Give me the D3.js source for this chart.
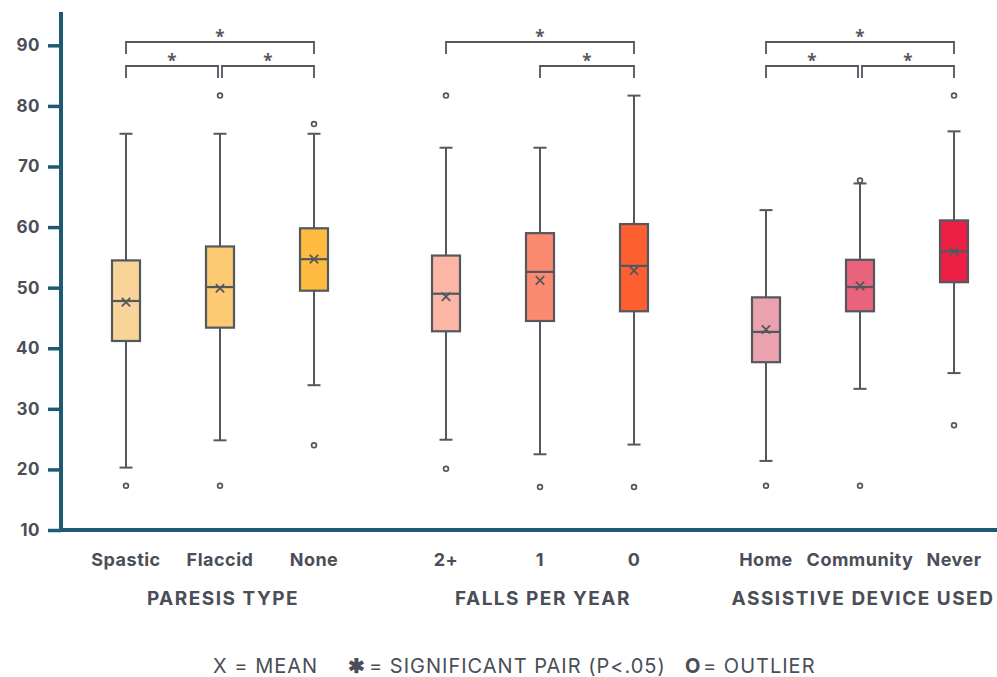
<!DOCTYPE html>
<html>
<head>
<meta charset="utf-8">
<script src="https://cdn.jsdelivr.net/npm/d3@7"></script>
<style>
  html, body { margin: 0; padding: 0; background: #fff; }
  svg { display: block; font-family: Inter, "Open Sans", sans-serif; }
</style>
</head>
<body>
<svg id="chart" width="997" height="677"></svg>
<script>
// Grouped box plots with significance brackets
const groups = ["PARESIS TYPE", "FALLS PER YEAR", "ASSISTIVE DEVICE USED"];
const categories = ["Spastic", "Flaccid", "None", "2+", "1", "0", "Home", "Community", "Never"];
const categoryGroup = [0, 0, 0, 1, 1, 1, 2, 2, 2];

const whiskerLow  = [20.3, 24.8, 33.9, 24.9, 22.5, 24.1, 21.4, 33.3, 35.9];
const quartile1   = [41.2, 43.4, 49.5, 42.8, 44.5, 46.1, 37.7, 46.1, 50.9];
const medians     = [47.8, 50.1, 54.7, 49.0, 52.6, 53.6, 42.7, 50.1, 56.0];
const quartile3   = [54.5, 56.8, 59.8, 55.3, 59.0, 60.5, 48.4, 54.6, 61.1];
const whiskerHigh = [75.4, 75.4, 75.4, 73.1, 73.1, 81.7, 62.8, 67.2, 75.8];
const means       = [47.6, 49.9, 54.7, 48.5, 51.2, 52.8, 43.1, 50.3, 56.0];
const outliers    = [[17.3], [17.3, 81.7], [24.0, 77.0], [20.1, 81.7], [17.1], [17.1], [17.3], [17.3, 67.7], [27.3, 81.7]];

// significant pairs: [from, to, level] (level 1 = outer bracket, 0 = inner)
const sigPairs = [
  ["Spastic", "None", 1], ["Spastic", "Flaccid", 0], ["Flaccid", "None", 0],
  ["2+", "0", 1], ["1", "0", 0],
  ["Home", "Never", 1], ["Home", "Community", 0], ["Community", "Never", 0]
];

const yTicks = [10, 20, 30, 40, 50, 60, 70, 80, 90];
const boxColors = ["#f8d498", "#fcca72", "#ffbb40", "#fbb6a5", "#fc8a70", "#fe5f31", "#eaa2ae", "#e9637c", "#ee1f44"];

const axisColor = "#1f5a73";
const inkColor = "#53575e";
const textColor = "#4a4e57";

const svg = d3.select("#chart");

const y = d3.scaleLinear().domain([10, 95.5]).range([530, 12]);

// outer band per group, inner point scale per category within a group
const xGroup = d3.scaleBand().domain(groups).range([60, 1020]).padding(0);
const xInner = d3.scalePoint().domain([0, 1, 2])
  .range([xGroup.bandwidth() / 2 - 94, xGroup.bandwidth() / 2 + 94]);
const catIndex = new Map(categories.map((c, i) => [c, i]));
const xCat = c => {
  const i = catIndex.get(c);
  const g = categoryGroup[i];
  const pos = categories.filter((_, j) => categoryGroup[j] === g).indexOf(c);
  return xGroup(groups[g]) + xInner(pos);
};

const boxW = 28, capW = 13;

// y axis
const yAxis = d3.axisLeft(y).tickValues(yTicks).tickSize(13).tickPadding(8).tickFormat(d3.format("d"));
const gy = svg.append("g").attr("transform", "translate(61,0)").call(yAxis);
gy.select(".domain").remove();
gy.selectAll(".tick line").attr("stroke", axisColor).attr("stroke-width", 3.5);
gy.selectAll(".tick text").attr("fill", textColor).attr("font-size", 17).attr("font-weight", 700)
  .attr("letter-spacing", 0.5).attr("font-family", "Inter, sans-serif");

svg.append("line").attr("x1", 61).attr("x2", 61).attr("y1", y(95.5)).attr("y2", y(10) + 2)
  .attr("stroke", axisColor).attr("stroke-width", 4);
svg.append("line").attr("x1", 59).attr("x2", 1003).attr("y1", y(10)).attr("y2", y(10))
  .attr("stroke", axisColor).attr("stroke-width", 4);

// boxes
const boxes = svg.append("g").selectAll("g").data(categories).join("g")
  .attr("transform", c => `translate(${xCat(c)},0)`);

boxes.append("line").attr("x1", 0).attr("x2", 0)
  .attr("y1", (c, i) => y(whiskerHigh[i])).attr("y2", (c, i) => y(quartile3[i]))
  .attr("stroke", inkColor).attr("stroke-width", 2);
boxes.append("line").attr("x1", 0).attr("x2", 0)
  .attr("y1", (c, i) => y(quartile1[i])).attr("y2", (c, i) => y(whiskerLow[i]))
  .attr("stroke", inkColor).attr("stroke-width", 2);
boxes.append("line").attr("x1", -capW / 2).attr("x2", capW / 2)
  .attr("y1", (c, i) => y(whiskerHigh[i])).attr("y2", (c, i) => y(whiskerHigh[i]))
  .attr("stroke", inkColor).attr("stroke-width", 2);
boxes.append("line").attr("x1", -capW / 2).attr("x2", capW / 2)
  .attr("y1", (c, i) => y(whiskerLow[i])).attr("y2", (c, i) => y(whiskerLow[i]))
  .attr("stroke", inkColor).attr("stroke-width", 2);
boxes.append("rect").attr("x", -boxW / 2).attr("width", boxW)
  .attr("y", (c, i) => y(quartile3[i])).attr("height", (c, i) => y(quartile1[i]) - y(quartile3[i]))
  .attr("fill", (c, i) => boxColors[i]).attr("stroke", inkColor).attr("stroke-width", 2.2);
boxes.append("line").attr("x1", -boxW / 2).attr("x2", boxW / 2)
  .attr("y1", (c, i) => y(medians[i])).attr("y2", (c, i) => y(medians[i]))
  .attr("stroke", inkColor).attr("stroke-width", 2.2);

// mean markers
boxes.append("path")
  .attr("d", (c, i) => {
    const m = y(means[i]), s = 4.2;
    return `M${-s},${m - s}L${s},${m + s}M${-s},${m + s}L${s},${m - s}`;
  })
  .attr("stroke", inkColor).attr("stroke-width", 1.8).attr("fill", "none");

// outliers
boxes.each(function (c, i) {
  d3.select(this).selectAll("circle").data(outliers[i]).join("circle")
    .attr("cx", 0).attr("cy", d => y(d)).attr("r", 2.4)
    .attr("fill", "#fff").attr("stroke", inkColor).attr("stroke-width", 1.7);
});

// significance brackets
const levelY = [66, 42];
const legDrop = 12;
const br = svg.append("g");
sigPairs.forEach(([a, b, lvl]) => {
  let x1 = xCat(a), x2 = xCat(b);
  if (lvl === 0) {
    // leave a small gap where two inner brackets meet over the same box
    if (sigPairs.some(p => p[2] === 0 && p[1] === a)) x1 += 2;
    if (sigPairs.some(p => p[2] === 0 && p[0] === b)) x2 -= 2;
  }
  const yy = levelY[lvl];
  br.append("text").attr("x", (x1 + x2) / 2).attr("y", yy + 1)
    .attr("text-anchor", "middle").attr("font-size", 17).attr("font-weight", 700)
    .attr("font-family", "'Open Sans', sans-serif")
    .attr("fill", inkColor).text("*");
  br.append("path")
    .attr("d", `M${x1},${yy + legDrop}V${yy}H${x2}V${yy + legDrop}`)
    .attr("fill", "none").attr("stroke", inkColor).attr("stroke-width", 1.8);
});

// category labels
svg.append("g").selectAll("text").data(categories).join("text")
  .attr("x", c => xCat(c)).attr("y", 566)
  .attr("text-anchor", "middle").attr("font-size", 18).attr("font-weight", 700)
  .attr("letter-spacing", 0.5).attr("fill", textColor).text(c => c);

// group titles
svg.append("g").selectAll("text").data(groups).join("text")
  .attr("x", g => xGroup(g) + xGroup.bandwidth() / 2 + 3).attr("y", 605)
  .attr("text-anchor", "middle").attr("font-size", 19).attr("font-weight", 700)
  .attr("letter-spacing", 1.5).attr("fill", textColor).text(g => g);

// legend
const legendG = svg.append("g").attr("font-size", 20).attr("letter-spacing", 1).attr("fill", textColor);
legendG.append("text").attr("x", 213).attr("y", 673).text("X = MEAN");
legendG.append("text").attr("x", 348).attr("y", 673).attr("font-weight", 700).text("✱");
legendG.append("text").attr("x", 369).attr("y", 673).text("= SIGNIFICANT PAIR (P<.05)");
legendG.append("text").attr("x", 685).attr("y", 673).attr("font-weight", 700).text("O");
legendG.append("text").attr("x", 703).attr("y", 673).text("= OUTLIER");
</script>
</body>
</html>
